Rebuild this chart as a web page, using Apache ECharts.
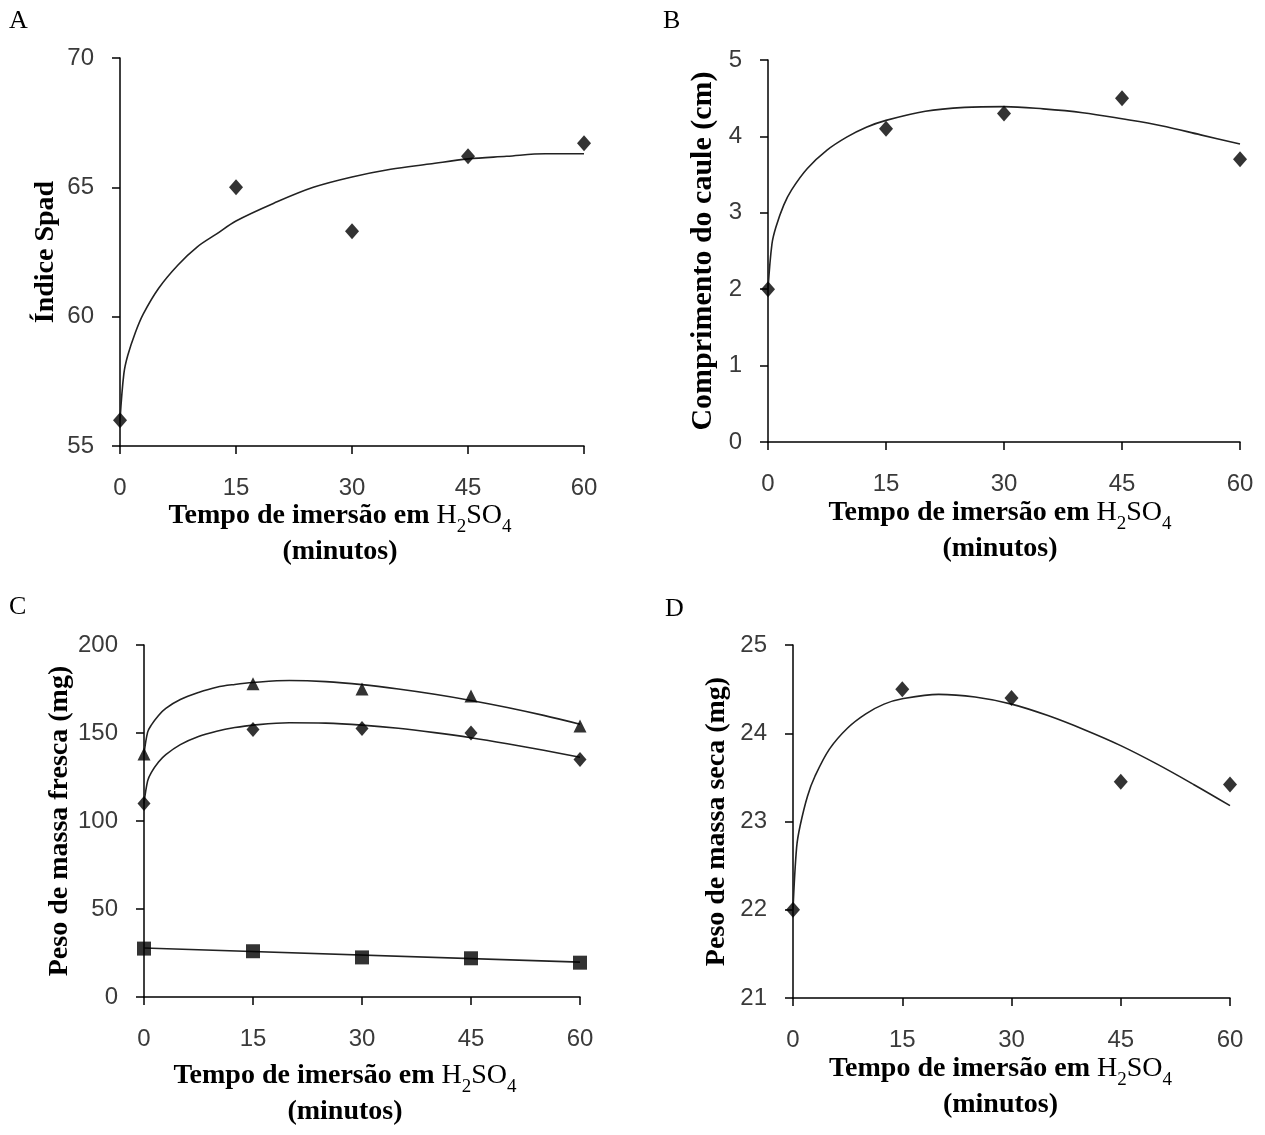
<!DOCTYPE html>
<html><head><meta charset="utf-8">
<script src="https://cdn.jsdelivr.net/npm/echarts@6/dist/echarts.min.js"></script>
<style>html,body{margin:0;padding:0;background:#fff}#c{width:1265px;height:1135px}</style>
</head><body><div id="c"></div>
<script>
// ---- data ----
const timePoints = [0, 15, 30, 45, 60];
const spadObs   = [56.0, 65.0, 63.3, 66.2, 66.7];
const caulObs   = [2.0, 4.1, 4.3, 4.5, 3.7];
const frescaTri = [138, 178, 175, 171, 154];
const frescaDia = [110, 152, 152.5, 150, 135];
const frescaSq  = [27.5, 26, 22.5, 22, 19.5];
const secaObs   = [22.0, 24.5, 24.4, 23.45, 23.42];

// fitted trend curves, as drawn in the figure
const fitX    = [0, 0.5, 1, 2, 3, 5, 7.5, 10, 12.5, 15, 20, 25, 30, 35, 40, 45, 50, 55, 60];
const spadFit = [56.0, 57.8, 58.5, 59.4, 60.1, 61.1, 62.0, 62.7, 63.2, 63.7, 64.4, 65.0, 65.4, 65.7, 65.9, 66.1, 66.2, 66.3, 66.3];
const caulFit = [2.0, 2.59, 2.81, 3.10, 3.30, 3.58, 3.82, 3.99, 4.12, 4.21, 4.33, 4.38, 4.39, 4.36, 4.31, 4.23, 4.14, 4.02, 3.90];
const triFit  = [138, 150.5, 154.5, 160.0, 164.0, 169.0, 173.0, 176.0, 177.6, 178.7, 179.8, 179.2, 177.5, 175.0, 172.0, 168.5, 164.5, 160.0, 155.0];
const diaFit  = [110, 122.8, 127.5, 133.5, 137.7, 143.4, 148.0, 151.0, 153.1, 154.5, 155.8, 155.6, 154.5, 152.7, 150.2, 147.3, 143.9, 140.2, 136.2];
const sqFitX  = [0, 60];
const sqFit   = [27.8, 19.8];
const secaFit = [22.0, 22.71, 22.96, 23.29, 23.51, 23.82, 24.06, 24.22, 24.33, 24.39, 24.44, 24.41, 24.33, 24.20, 24.04, 23.86, 23.65, 23.42, 23.18];

const panelLetters = ['A', 'B', 'C', 'D'];
const yNames = ['Índice Spad', 'Comprimento do caule (cm)', 'Peso de massa fresca (mg)', 'Peso de massa seca (mg)'];
const yRanges = [[55, 70, 5], [0, 5, 1], [0, 200, 50], [21, 25, 1]];
const xRange = [0, 60, 15];

// ---- helpers ----
const pairs = (xs, ys) => xs.map((x, i) => [x, ys[i]]);
const SERIF = '"Liberation Serif", "Times New Roman", serif';
const SANS = '"Liberation Sans", Arial, sans-serif';
const xName = '{t|Tempo de imersão em }{h|H}{s|2}{h|SO}{s|4}\n{m|(minutos)}';
const xRich = {
  t: {fontFamily: SERIF, fontWeight: 'bold', fontSize: 28, lineHeight: 30, color: '#000', verticalAlign: 'top'},
  h: {fontFamily: SERIF, fontWeight: 'normal', fontSize: 28, lineHeight: 30, color: '#000', verticalAlign: 'top'},
  s: {fontFamily: SERIF, fontWeight: 'normal', fontSize: 19, lineHeight: 19, padding: [16, 0, 0, 0], color: '#000', verticalAlign: 'top'},
  m: {fontFamily: SERIF, fontWeight: 'bold', fontSize: 28, lineHeight: 34, color: '#000', verticalAlign: 'bottom'}
};

const grids = [
  {left: 120, top: 58, width: 464, height: 388},
  {left: 768, top: 60, width: 472, height: 382},
  {left: 144, top: 645, width: 436, height: 352},
  {left: 793, top: 645, width: 437, height: 353}
];
const xNameGaps = [56, 57, 65, 57];
const xNamePad = [[0, 24, 0, 0], [0, 8, 0, 0], [0, 34, 0, 0], [0, 22, 0, 0]];
const yNameGaps = [60, 50, 70, 62];
const yNameSizes = [28, 30, 28, 28];

const axisLine = {onZero: false, lineStyle: {color: '#000', width: 1.5}};
const axisTick = {length: 8, lineStyle: {color: '#000', width: 1.5}};
const axisLabel = {fontFamily: SANS, fontSize: 24, color: '#3a3a3a'};

const xAxes = grids.map((g, i) => ({
  type: 'value', gridIndex: i, min: xRange[0], max: xRange[1], interval: xRange[2],
  axisLine, axisTick, splitLine: {show: false},
  axisLabel: Object.assign({}, axisLabel, {margin: 30}),
  name: xName, nameLocation: 'middle', nameGap: xNameGaps[i],
  nameTextStyle: {rich: xRich, padding: xNamePad[i]}
}));
const yAxes = grids.map((g, i) => ({
  type: 'value', gridIndex: i, min: yRanges[i][0], max: yRanges[i][1], interval: yRanges[i][2],
  axisLine, axisTick, splitLine: {show: false},
  axisLabel: Object.assign({}, axisLabel, {margin: 26}),
  name: yNames[i], nameLocation: 'middle', nameGap: yNameGaps[i],
  nameTextStyle: {fontFamily: SERIF, fontWeight: 'bold', fontSize: yNameSizes[i], color: '#000'}
}));

const lineStyle = {color: '#222', width: 1.6};
function fit(i, xs, ys) {
  return {type: 'line', xAxisIndex: i, yAxisIndex: i, data: pairs(xs, ys), showSymbol: false, symbol: 'none',
    smooth: 0.35, lineStyle, silent: true, z: 2};
}
function obs(i, ys, symbol, size) {
  return {type: 'scatter', xAxisIndex: i, yAxisIndex: i, data: pairs(timePoints, ys), symbol, symbolSize: size,
    itemStyle: {color: '#000'}, z: 3};
}

const series = [
  fit(0, fitX, spadFit), obs(0, spadObs, 'diamond', [14, 16]),
  fit(1, fitX, caulFit), obs(1, caulObs, 'diamond', [14, 16]),
  fit(2, fitX, triFit), obs(2, frescaTri, 'triangle', [13, 13]),
  fit(2, fitX, diaFit), obs(2, frescaDia, 'diamond', [13, 15]),
  fit(2, sqFitX, sqFit), obs(2, frescaSq, 'rect', [14, 14]),
  fit(3, fitX, secaFit), obs(3, secaObs, 'diamond', [14, 16])
];

const letterPos = [[9, 8], [663, 8], [9, 594], [665, 596]];
const graphic = panelLetters.map((L, i) => ({
  type: 'text', left: letterPos[i][0], top: letterPos[i][1],
  style: {text: L, font: '26px ' + SERIF, fill: '#000'}
}));

const chart = echarts.init(document.getElementById('c'), null, {renderer: 'canvas'});
chart.setOption({
  animation: false, backgroundColor: '#fff',
  grid: grids, xAxis: xAxes, yAxis: yAxes, series, graphic
});
</script></body></html>
